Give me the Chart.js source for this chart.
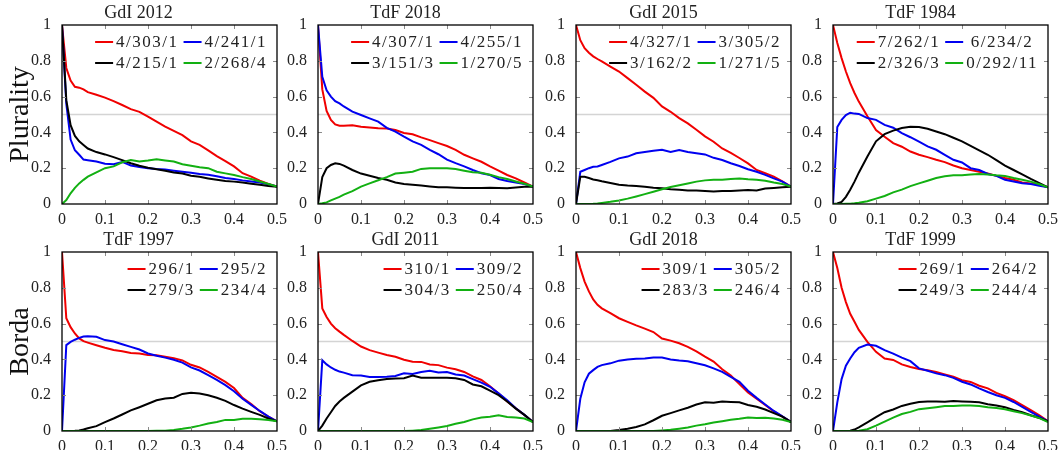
<!DOCTYPE html>
<html>
<head>
  <title>Winner probability curves</title>
  <script src="https://cdn.jsdelivr.net/npm/chart.js"></script>
  <style>
    body {
      margin: 0;
      background: white;
    }

    #panels {
      position: relative;
      width: 1062px;
      height: 450px;
    }

    canvas {
      position: absolute;
    }
  </style>
</head>
<body>

  <div id="panels"></div>

  <script>
    // shared x grid (finer near 0 where curves move fast)
    const xs = [0, 0.01, 0.02, 0.03, 0.04, 0.05, 0.06, 0.08, 0.10, 0.12, 0.14, 0.16, 0.18, 0.20,
      0.22, 0.24, 0.26, 0.28, 0.30, 0.32, 0.34, 0.36, 0.38, 0.40, 0.42, 0.44, 0.46, 0.48, 0.50];
    const xTicks = [0, 0.1, 0.2, 0.3, 0.4, 0.5];
    const yTicks = [0, 0.2, 0.4, 0.6, 0.8, 1];
    const rowNames = ["Plurality", "Borda"];
    const titles = ["GdI 2012", "TdF 2018", "GdI 2015", "TdF 1984", "TdF 1997", "GdI 2011", "GdI 2018", "TdF 1999"];

    const labels = [
      ["4/303/1", "4/241/1", "4/215/1", "2/268/4"],
      ["4/307/1", "4/255/1", "3/151/3", "1/270/5"],
      ["4/327/1", "3/305/2", "3/162/2", "1/271/5"],
      ["7/262/1", "6/234/2", "2/326/3", "0/292/11"],
      ["296/1", "295/2", "279/3", "234/4"],
      ["310/1", "309/2", "304/3", "250/4"],
      ["309/1", "305/2", "283/3", "246/4"],
      ["269/1", "264/2", "249/3", "244/4"]
    ];

    // Plurality
    const gdi12Red = [1, 0.76, 0.69, 0.655, 0.65, 0.64, 0.625, 0.61, 0.594, 0.575, 0.553, 0.53, 0.515, 0.488, 0.46, 0.432, 0.408, 0.385, 0.35, 0.33, 0.30, 0.268, 0.24, 0.21, 0.172, 0.153, 0.13, 0.112, 0.097];
    const gdi12Blue = [1, 0.56, 0.36, 0.30, 0.275, 0.248, 0.245, 0.237, 0.225, 0.222, 0.235, 0.215, 0.207, 0.2, 0.195, 0.193, 0.186, 0.18, 0.175, 0.168, 0.163, 0.155, 0.145, 0.14, 0.132, 0.126, 0.12, 0.11, 0.097];
    const gdi12Black = [1, 0.58, 0.44, 0.38, 0.35, 0.33, 0.31, 0.29, 0.277, 0.262, 0.245, 0.228, 0.214, 0.203, 0.194, 0.186, 0.176, 0.17, 0.158, 0.152, 0.143, 0.135, 0.128, 0.125, 0.12, 0.113, 0.107, 0.1, 0.097];
    const gdi12Green = [0, 0.022, 0.06, 0.09, 0.115, 0.135, 0.153, 0.177, 0.2, 0.21, 0.233, 0.246, 0.238, 0.243, 0.25, 0.243, 0.237, 0.222, 0.214, 0.205, 0.2, 0.18, 0.171, 0.162, 0.15, 0.14, 0.126, 0.112, 0.097];

    const tdf18Red = [1, 0.64, 0.52, 0.47, 0.445, 0.437, 0.437, 0.44, 0.432, 0.428, 0.423, 0.422, 0.413, 0.397, 0.39, 0.372, 0.357, 0.34, 0.324, 0.302, 0.275, 0.255, 0.236, 0.21, 0.187, 0.162, 0.143, 0.12, 0.097];
    const tdf18Blue = [1, 0.71, 0.635, 0.6, 0.575, 0.562, 0.545, 0.516, 0.497, 0.478, 0.46, 0.425, 0.404, 0.376, 0.35, 0.33, 0.303, 0.278, 0.248, 0.228, 0.21, 0.19, 0.172, 0.162, 0.14, 0.128, 0.12, 0.112, 0.097];
    const tdf18Black = [0, 0.15, 0.2, 0.218, 0.227, 0.224, 0.214, 0.19, 0.17, 0.158, 0.145, 0.135, 0.12, 0.112, 0.107, 0.103, 0.098, 0.094, 0.093, 0.091, 0.09, 0.089, 0.09, 0.091, 0.09, 0.088, 0.092, 0.097, 0.097];
    const tdf18Green = [0, 0.004, 0.009, 0.02, 0.03, 0.04, 0.052, 0.072, 0.097, 0.115, 0.133, 0.15, 0.17, 0.175, 0.18, 0.196, 0.2, 0.2, 0.2, 0.195, 0.186, 0.177, 0.175, 0.163, 0.15, 0.14, 0.126, 0.113, 0.097];

    const gdi15Red = [1, 0.915, 0.87, 0.845, 0.825, 0.81, 0.797, 0.767, 0.74, 0.703, 0.666, 0.628, 0.593, 0.545, 0.515, 0.48, 0.45, 0.415, 0.378, 0.348, 0.31, 0.285, 0.257, 0.227, 0.19, 0.172, 0.153, 0.127, 0.097];
    const gdi15Blue = [0, 0.18, 0.19, 0.2, 0.208, 0.21, 0.218, 0.235, 0.255, 0.265, 0.283, 0.29, 0.298, 0.303, 0.29, 0.302, 0.29, 0.283, 0.277, 0.258, 0.246, 0.228, 0.212, 0.194, 0.18, 0.163, 0.143, 0.125, 0.097];
    const gdi15Black = [0, 0.152, 0.152, 0.145, 0.137, 0.133, 0.127, 0.117, 0.108, 0.103, 0.1, 0.096, 0.091, 0.088, 0.083, 0.08, 0.076, 0.075, 0.073, 0.07, 0.072, 0.073, 0.075, 0.078, 0.076, 0.087, 0.09, 0.093, 0.097];
    const gdi15Green = [0, 0, 0, 0, 0.001, 0.003, 0.006, 0.012, 0.02, 0.03, 0.042, 0.055, 0.068, 0.082, 0.095, 0.105, 0.115, 0.125, 0.132, 0.135, 0.135, 0.14, 0.143, 0.138, 0.135, 0.13, 0.12, 0.112, 0.097];

    const tdf84Red = [1, 0.9, 0.815, 0.74, 0.675, 0.62, 0.572, 0.49, 0.413, 0.376, 0.34, 0.32, 0.293, 0.275, 0.262, 0.247, 0.234, 0.215, 0.2, 0.19, 0.18, 0.171, 0.157, 0.145, 0.135, 0.12, 0.115, 0.107, 0.093];
    const tdf84Blue = [0, 0.43, 0.47, 0.497, 0.51, 0.505, 0.503, 0.48, 0.47, 0.442, 0.426, 0.396, 0.373, 0.348, 0.322, 0.303, 0.275, 0.247, 0.232, 0.2, 0.19, 0.168, 0.157, 0.135, 0.126, 0.116, 0.112, 0.102, 0.093];
    const tdf84Black = [0, 0.003, 0.012, 0.04, 0.08, 0.125, 0.175, 0.265, 0.35, 0.39, 0.41, 0.425, 0.432, 0.43, 0.42, 0.405, 0.39, 0.37, 0.35, 0.325, 0.3, 0.275, 0.245, 0.215, 0.19, 0.165, 0.14, 0.117, 0.093];
    const tdf84Green = [0, 0, 0, 0.001, 0.002, 0.004, 0.007, 0.015, 0.03, 0.045, 0.065, 0.08, 0.1, 0.115, 0.13, 0.145, 0.155, 0.16, 0.16, 0.165, 0.168, 0.165, 0.16, 0.157, 0.145, 0.135, 0.125, 0.11, 0.093];

    // Borda
    const tdf97Red = [1, 0.63, 0.58, 0.545, 0.517, 0.502, 0.494, 0.479, 0.465, 0.453, 0.446, 0.436, 0.433, 0.425, 0.423, 0.415, 0.407, 0.394, 0.37, 0.355, 0.33, 0.302, 0.274, 0.24, 0.185, 0.15, 0.11, 0.08, 0.054];
    const tdf97Blue = [0, 0.48, 0.498, 0.51, 0.52, 0.528, 0.53, 0.526, 0.508, 0.5, 0.485, 0.47, 0.455, 0.433, 0.42, 0.41, 0.398, 0.382, 0.355, 0.338, 0.312, 0.285, 0.256, 0.222, 0.18, 0.146, 0.112, 0.08, 0.054];
    const tdf97Black = [0, 0, 0, 0.001, 0.003, 0.008, 0.015, 0.027, 0.05, 0.07, 0.092, 0.115, 0.133, 0.152, 0.172, 0.182, 0.186, 0.207, 0.213, 0.21, 0.2, 0.186, 0.168, 0.145, 0.125, 0.107, 0.09, 0.07, 0.054];
    const tdf97Green = [0, 0, 0, 0, 0, 0, 0, 0, 0, 0, 0, 0, 0, 0, 0.001, 0.002, 0.006, 0.012, 0.02, 0.03, 0.042, 0.05, 0.062, 0.062, 0.068, 0.068, 0.065, 0.062, 0.054];

    const gdi11Red = [1, 0.685, 0.637, 0.6, 0.574, 0.555, 0.537, 0.503, 0.472, 0.452, 0.438, 0.425, 0.415, 0.398, 0.387, 0.386, 0.372, 0.368, 0.354, 0.345, 0.33, 0.305, 0.285, 0.25, 0.21, 0.165, 0.127, 0.089, 0.05];
    const gdi11Blue = [0, 0.395, 0.372, 0.355, 0.342, 0.332, 0.326, 0.312, 0.31, 0.302, 0.302, 0.303, 0.307, 0.322, 0.318, 0.33, 0.337, 0.327, 0.33, 0.316, 0.31, 0.29, 0.27, 0.247, 0.21, 0.172, 0.127, 0.09, 0.05];
    const gdi11Black = [0, 0.03, 0.07, 0.105, 0.14, 0.165, 0.185, 0.22, 0.255, 0.275, 0.283, 0.29, 0.293, 0.295, 0.31, 0.297, 0.297, 0.298, 0.298, 0.295, 0.285, 0.26, 0.25, 0.225, 0.2, 0.165, 0.125, 0.09, 0.05];
    const gdi11Green = [0, 0, 0, 0, 0, 0, 0, 0, 0, 0, 0, 0, 0, 0, 0.002, 0.005, 0.012, 0.02, 0.028, 0.04, 0.05, 0.065, 0.075, 0.08, 0.088, 0.078, 0.075, 0.07, 0.05];

    const gdi18Red = [1, 0.91, 0.835, 0.78, 0.735, 0.705, 0.685, 0.658, 0.63, 0.61, 0.59, 0.572, 0.553, 0.517, 0.505, 0.49, 0.47, 0.445, 0.415, 0.388, 0.345, 0.31, 0.262, 0.215, 0.18, 0.145, 0.11, 0.08, 0.05];
    const gdi18Blue = [0, 0.18, 0.272, 0.32, 0.34, 0.358, 0.368, 0.378, 0.393, 0.4, 0.403, 0.405, 0.41, 0.41, 0.4, 0.394, 0.39, 0.378, 0.367, 0.35, 0.33, 0.302, 0.275, 0.225, 0.185, 0.148, 0.112, 0.082, 0.05];
    const gdi18Black = [0, 0, 0, 0, 0, 0, 0, 0, 0.005, 0.012, 0.022, 0.037, 0.06, 0.085, 0.1, 0.115, 0.13, 0.148, 0.16, 0.158, 0.165, 0.162, 0.16, 0.145, 0.135, 0.12, 0.1, 0.08, 0.05];
    const gdi18Green = [0, 0, 0, 0, 0, 0, 0, 0, 0, 0, 0, 0, 0, 0.003, 0.007, 0.013, 0.02, 0.03, 0.038, 0.048, 0.055, 0.063, 0.068, 0.075, 0.072, 0.074, 0.07, 0.063, 0.05];

    const tdf99Red = [1, 0.91, 0.8, 0.72, 0.655, 0.61, 0.565, 0.498, 0.442, 0.405, 0.397, 0.372, 0.358, 0.346, 0.34, 0.33, 0.316, 0.303, 0.284, 0.274, 0.253, 0.238, 0.213, 0.194, 0.172, 0.145, 0.117, 0.088, 0.054];
    const tdf99Blue = [0, 0.16, 0.29, 0.365, 0.405, 0.44, 0.465, 0.483, 0.476, 0.452, 0.432, 0.41, 0.39, 0.35, 0.337, 0.322, 0.312, 0.297, 0.275, 0.26, 0.238, 0.218, 0.2, 0.185, 0.162, 0.135, 0.107, 0.08, 0.054];
    const tdf99Black = [0, 0, 0, 0, 0.001, 0.008, 0.02, 0.048, 0.077, 0.105, 0.12, 0.14, 0.152, 0.162, 0.165, 0.165, 0.163, 0.168, 0.165, 0.163, 0.16, 0.15, 0.143, 0.133, 0.118, 0.105, 0.088, 0.073, 0.054];
    const tdf99Green = [0, 0, 0, 0, 0, 0, 0.002, 0.01, 0.03, 0.052, 0.075, 0.095, 0.107, 0.122, 0.127, 0.133, 0.14, 0.14, 0.142, 0.142, 0.14, 0.133, 0.128, 0.122, 0.11, 0.1, 0.087, 0.072, 0.05];

    const panelSeries = [
      [gdi12Red, gdi12Blue, gdi12Black, gdi12Green],
      [tdf18Red, tdf18Blue, tdf18Black, tdf18Green],
      [gdi15Red, gdi15Blue, gdi15Black, gdi15Green],
      [tdf84Red, tdf84Blue, tdf84Black, tdf84Green],
      [tdf97Red, tdf97Blue, tdf97Black, tdf97Green],
      [gdi11Red, gdi11Blue, gdi11Black, gdi11Green],
      [gdi18Red, gdi18Blue, gdi18Black, gdi18Green],
      [tdf99Red, tdf99Blue, tdf99Black, tdf99Green]
    ];

    const colors = ["#f00000", "#0000f0", "#000000", "#12b012"];
    const serif = "'Liberation Serif', serif";

    // plot boxes
    const plotLeft = [62, 318, 576, 833];
    const plotWidth = 215;
    const plotTop = [25, 252];
    const plotHeight = 179;
    const titleH = 25, axisH = 20, rightPad = 14;

    Chart.defaults.font.family = serif;
    Chart.defaults.color = "#222";

    const fmt = v => (v === 0 || v === 1) ? String(v) : v.toFixed(1);
    const tickFont = { family: serif, size: 16, weight: "normal", lineHeight: 1 };

    // black frame + short grey ticks pointing inwards on all four sides
    const framePlugin = {
      id: "frame",
      afterDatasetsDraw(chart) {
        const { ctx, chartArea: a, scales: { x, y } } = chart;
        ctx.save();
        ctx.strokeStyle = "#8a8a8a";
        ctx.lineWidth = 1;
        ctx.beginPath();
        xTicks.slice(1, -1).forEach(v => {
          const px = Math.round(x.getPixelForValue(v)) + 0.5;
          ctx.moveTo(px, a.bottom); ctx.lineTo(px, a.bottom - 4);
          ctx.moveTo(px, a.top); ctx.lineTo(px, a.top + 4);
        });
        yTicks.slice(1, -1).forEach(v => {
          const py = Math.round(y.getPixelForValue(v)) + 0.5;
          ctx.moveTo(a.left, py); ctx.lineTo(a.left + 4, py);
          ctx.moveTo(a.right, py); ctx.lineTo(a.right - 4, py);
        });
        ctx.stroke();
        ctx.strokeStyle = "#000";
        ctx.lineWidth = 1.3;
        ctx.strokeRect(a.left, a.top, a.width, a.height);
        ctx.restore();
      }
    };

    // two-column legend in the top right corner of the plot
    const cornerLegend = {
      id: "cornerLegend",
      afterDatasetsDraw(chart) {
        const { ctx, chartArea: a } = chart;
        const sets = chart.data.datasets.filter(d => d.label);
        ctx.save();
        ctx.font = "normal 17px " + serif;
        ctx.letterSpacing = "1.5px";
        const w = sets.map(d => ctx.measureText(d.label).width);
        const colW = [Math.max(w[0], w[2]), Math.max(w[1], w[3])];
        const sample = 18, gap = 3, sep = 5;
        const total = colW[0] + colW[1] + 2 * (sample + gap) + sep;
        const x0 = a.right - 10 - total;
        ctx.textAlign = "center";
        ctx.textBaseline = "middle";
        sets.forEach((d, i) => {
          const col = i % 2, row = Math.floor(i / 2);
          const cx = x0 + (col ? colW[0] + sample + gap + sep : 0);
          const cy = a.top + 17 + row * 21;
          ctx.strokeStyle = d.borderColor;
          ctx.lineWidth = 2;
          ctx.beginPath();
          ctx.moveTo(cx, cy);
          ctx.lineTo(cx + sample, cy);
          ctx.stroke();
          ctx.fillStyle = "#222";
          ctx.fillText(d.label, cx + sample + gap + colW[col] / 2, cy + 1);
        });
        ctx.restore();
      }
    };

    const holder = document.getElementById("panels");

    titles.forEach((title, p) => {
      const row = Math.floor(p / 4), col = p % 4;
      const leftW = col === 0 ? 62 : 40;
      const canvas = document.createElement("canvas");
      canvas.width = leftW + plotWidth + rightPad;
      canvas.height = titleH + plotHeight + axisH;
      canvas.style.left = (plotLeft[col] - leftW) + "px";
      canvas.style.top = (plotTop[row] - titleH) + "px";
      holder.appendChild(canvas);

      const datasets = panelSeries[p].map((ys, i) => ({
        label: labels[p][i],
        data: xs.map((x, k) => ({ x, y: ys[k] })),
        borderColor: colors[i],
        borderWidth: 2,
        order: 3 - i
      }));
      // reference line at one half
      datasets.push({
        data: [{ x: 0, y: 0.5 }, { x: 0.5, y: 0.5 }],
        borderColor: "#d4d4d4",
        borderWidth: 1.5,
        order: 10
      });

      new Chart(canvas, {
        type: "line",
        data: { datasets },
        options: {
          responsive: false,
          animation: false,
          devicePixelRatio: 1,
          layout: { padding: { right: rightPad }, autoPadding: false },
          elements: { point: { radius: 0 }, line: { tension: 0 } },
          plugins: {
            legend: { display: false },
            tooltip: { enabled: false },
            title: {
              display: true,
              text: title,
              color: "#222",
              font: { family: serif, size: 18, weight: "normal", lineHeight: "20px" },
              padding: { top: 3, bottom: 2 }
            }
          },
          scales: {
            x: {
              type: "linear",
              min: 0,
              max: 0.5,
              grid: { display: false },
              border: { display: false },
              afterBuildTicks: s => { s.ticks = xTicks.map(value => ({ value })); },
              afterFit: s => { s.height = axisH; },
              ticks: {
                callback: fmt,
                autoSkip: false,
                maxRotation: 0,
                padding: 0,
                font: tickFont
              }
            },
            y: {
              min: 0,
              max: 1,
              grid: { display: false },
              border: { display: false },
              afterBuildTicks: s => { s.ticks = yTicks.map(value => ({ value })); },
              afterFit: s => { s.width = leftW; },
              ticks: {
                callback: fmt,
                padding: 3,
                font: tickFont
              },
              title: {
                display: col === 0,
                text: rowNames[row],
                color: "#111",
                font: { family: serif, size: 28, weight: "normal", lineHeight: 1.2 },
                padding: { top: 4, bottom: 0 }
              }
            }
          }
        },
        plugins: [framePlugin, cornerLegend]
      });
    });
  </script>

</body>
</html>
